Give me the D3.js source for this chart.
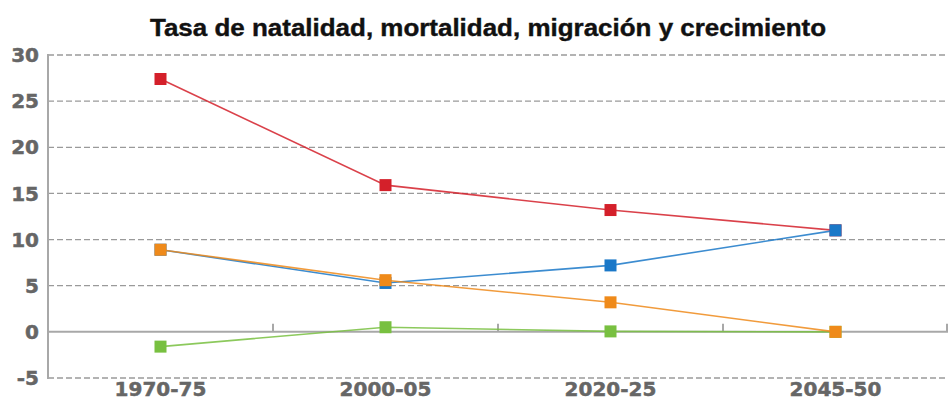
<!DOCTYPE html>
<html><head><meta charset="utf-8">
<script src="https://cdn.jsdelivr.net/npm/d3@7"></script>
<style>body{margin:0;background:#fff}svg{display:block}</style>
</head><body>
<svg id="c" width="949" height="401"></svg>
<script>
const title = "Tasa de natalidad, mortalidad, migración y crecimiento";
const categories = ["1970-75", "2000-05", "2020-25", "2045-50"];
const yTicks = [-5, 0, 5, 10, 15, 20, 25, 30];
const natalidad = [27.4, 15.9, 13.2, 11.0];
const crecimiento = [8.9, 5.3, 7.2, 11.0];
const mortalidad = [8.9, 5.6, 3.2, 0.0];
const migracion = [-1.6, 0.5, 0.05, 0.0];
const seriesNames = ["natalidad", "migracion", "crecimiento", "mortalidad"];
const seriesValues = [natalidad, migracion, crecimiento, mortalidad];
const seriesColors = ["#d4202a", "#78c040", "#1a78c8", "#ef8a1a"];

const svg = d3.select("#c");
const x = d3.scaleBand().domain(categories).range([48, 948]);
const y = d3.scaleLinear().domain([-5, 30]).range([378, 55]);

// gridlines
svg.append("g").selectAll("line").data(yTicks.filter(d => d !== 0)).join("line")
  .attr("x1", 48).attr("x2", 948)
  .attr("y1", d => y(d)).attr("y2", d => y(d))
  .attr("stroke", "#9a9a9a").attr("stroke-width", 1.3).attr("stroke-dasharray", "6,3");

// zero axis
svg.append("line").attr("x1", 48).attr("x2", 948).attr("y1", y(0)).attr("y2", y(0))
  .attr("stroke", "#a8a8a8").attr("stroke-width", 2);
// band boundary ticks
svg.append("g").selectAll("line").data(categories.slice(1).concat(["end"])).join("line")
  .attr("x1", d => d === "end" ? 947 : x(d))
  .attr("x2", d => d === "end" ? 947 : x(d))
  .attr("y1", y(0) - 8).attr("y2", y(0))
  .attr("stroke", "#a8a8a8").attr("stroke-width", 2);

// y axis line
svg.append("line").attr("x1", 48).attr("x2", 48).attr("y1", y(30) - 1).attr("y2", y(-5) + 1)
  .attr("stroke", "#a8a8a8").attr("stroke-width", 2);

// y labels
svg.append("g").selectAll("text").data(yTicks).join("text")
  .attr("x", 39).attr("y", d => y(d)).attr("dy", "0.36em")
  .attr("text-anchor", "end")
  .attr("font-family", "DejaVu Sans").attr("font-weight", "bold").attr("font-size", 20)
  .attr("fill", "#666").attr("stroke", "#666").attr("stroke-width", 0.5).text(d => d);

// x labels
svg.append("g").selectAll("text").data(categories).join("text")
  .attr("x", d => x(d) + x.bandwidth()/2).attr("y", 396)
  .attr("text-anchor", "middle")
  .attr("font-family", "DejaVu Sans").attr("font-weight", "bold").attr("font-size", 20)
  .attr("fill", "#666").attr("stroke", "#666").attr("stroke-width", 0.5).text(d => d);

// title
svg.append("text").attr("x", 150).attr("y", 36)
  .attr("font-family", "Liberation Sans").attr("font-weight", "bold").attr("font-size", 24)
  .attr("textLength", 676).attr("lengthAdjust", "spacingAndGlyphs")
  .attr("fill", "#111").attr("stroke", "#111").attr("stroke-width", 0.4).text(title);

// series
const line = d3.line().x((d, i) => x(categories[i]) + x.bandwidth()/2).y(d => y(d));
seriesValues.forEach((vals, k) => {
  const g = svg.append("g");
  g.append("path").attr("d", line(vals)).attr("fill", "none")
    .attr("stroke", seriesColors[k]).attr("stroke-width", 1.6).attr("stroke-opacity", 0.85);
  g.selectAll("rect").data(vals).join("rect")
    .attr("x", (d, i) => x(categories[i]) + x.bandwidth()/2 - 6)
    .attr("y", d => y(d) - 6)
    .attr("width", 12).attr("height", 12)
    .attr("fill", seriesColors[k]);
});
</script>
</body></html>
